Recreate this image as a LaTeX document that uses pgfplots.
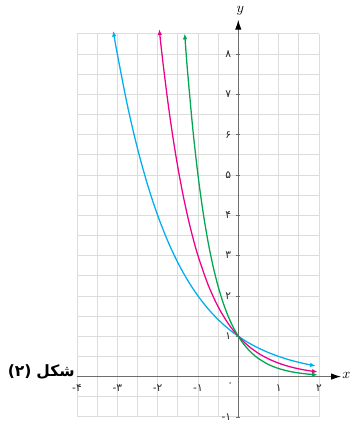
\documentclass[border=0pt]{standalone}
\usepackage{fontspec}
\usepackage{pgfplots}
\pgfplotsset{compat=1.18}
\usetikzlibrary{arrows.meta}
\TeXXeTstate=1
\newfontfamily\arabicfont[Script=Arabic]{DejaVu Sans}
\newfontfamily\latinfont{DejaVu Sans}
\newcommand{\mn}{{\latinfont -}}
\definecolor{cblue}{HTML}{00AEEF}
\definecolor{cmag}{HTML}{EC008C}
\definecolor{cgreen}{HTML}{00A651}
\definecolor{gridc}{HTML}{DCDCDC}
\definecolor{axc}{HTML}{6E6E6E}
\begin{document}
\begin{tikzpicture}
\begin{axis}[
  x=1cm, y=1cm,
  xmin=-4, xmax=2, ymin=-1, ymax=8.5,
  axis lines=middle,
  axis line style={draw=none},
  clip=false,
  xtick={-4,-3,-2,-1,1,2},
  xticklabels={\mn۴,\mn۳,\mn۲,\mn۱,۱,۲},
  ytick={-1,1,2,3,4,5,6,7,8},
  yticklabels={\mn۱,۱,۲,۳,۴,۵,۶,۷,۸},
  minor xtick={-3.5,-2.5,-1.5,-0.5,0,0.5,1.5},
  minor ytick={-0.5,0,0.5,1.5,2.5,3.5,4.5,5.5,6.5,7.5,8.5},
  grid=both,
  major grid style={gridc, line width=0.6pt},
  minor grid style={gridc, line width=0.6pt},
  xtick style={draw=none},
  minor tick style={draw=none},
  ytick style={axc, line width=0.5pt},
  major tick length=3pt,
  ticklabel style={font=\arabicfont\fontsize{7.5}{8}\selectfont, text=black!85},
  xticklabel style={yshift=-1pt},
]
\path (axis cs:-5.91,-1.12) rectangle (axis cs:3.03,9.34);
\draw[axc, line width=0.7pt, -{Latex[length=7pt,width=4.5pt,color=black]}] (axis cs:-4,0) -- (axis cs:2.55,0);
\draw[axc, line width=0.7pt, -{Latex[length=7pt,width=4.5pt,color=black]}] (axis cs:0,-1) -- (axis cs:0,8.85);

\addplot[cblue, line width=0.9pt, smooth, {Latex[length=4pt,width=3.2pt]}-{Latex[length=4pt,width=3.2pt]}] coordinates {
(-3.1,8.574) (-3,8) (-2.75,6.727) (-2.5,5.657) (-2.25,4.757) (-2,4) (-1.75,3.364) (-1.5,2.828) (-1.25,2.378) (-1,2) (-0.75,1.682) (-0.5,1.414) (-0.25,1.189) (0,1) (0.25,0.841) (0.5,0.707) (0.75,0.595) (1,0.5) (1.25,0.420) (1.5,0.354) (1.75,0.297) (1.92,0.264)};

\addplot[cmag, line width=0.9pt, smooth, {Latex[length=4pt,width=3.2pt]}-{Latex[length=4pt,width=3.2pt]}] coordinates {
(-1.96,8.613) (-1.875,7.845) (-1.75,6.839) (-1.625,5.961) (-1.5,5.196) (-1.375,4.529) (-1.25,3.948) (-1.125,3.442) (-1,3) (-0.75,2.280) (-0.5,1.732) (-0.25,1.316) (0,1) (0.25,0.760) (0.5,0.577) (0.75,0.439) (1,0.333) (1.25,0.253) (1.5,0.192) (1.75,0.146) (1.97,0.115)};

\addplot[cgreen, line width=0.9pt, smooth, {Latex[length=4pt,width=3.2pt]}-{Latex[length=4pt,width=3.2pt]}] coordinates {
(-1.33,8.504) (-1.25,7.477) (-1.125,6.114) (-1,5) (-0.875,4.089) (-0.75,3.344) (-0.625,2.734) (-0.5,2.236) (-0.375,1.829) (-0.25,1.495) (-0.125,1.223) (0,1) (0.125,0.818) (0.25,0.669) (0.375,0.547) (0.5,0.447) (0.75,0.299) (1,0.2) (1.25,0.134) (1.5,0.0894) (1.75,0.0598) (1.97,0.042)};

\node at (axis cs:2.68,0.02) {$x$};
\node at (axis cs:0.05,9.08) {$y$};
\node[font=\arabicfont\fontsize{7.5}{8}\selectfont, text=black!85] at (axis cs:-0.2,-0.2) {۰};
\node[anchor=east, inner sep=0pt, font=\arabicfont\bfseries\fontsize{11}{13}\selectfont] (shekl) at (axis cs:-4.05,0.12) {\beginR شکل\endR};
\node[anchor=east, inner sep=0pt, font=\arabicfont\bfseries\fontsize{11}{13}\selectfont] at ([xshift=-3pt]shekl.east -| shekl.west) {(۲)};
\end{axis}
\end{tikzpicture}
\end{document}
